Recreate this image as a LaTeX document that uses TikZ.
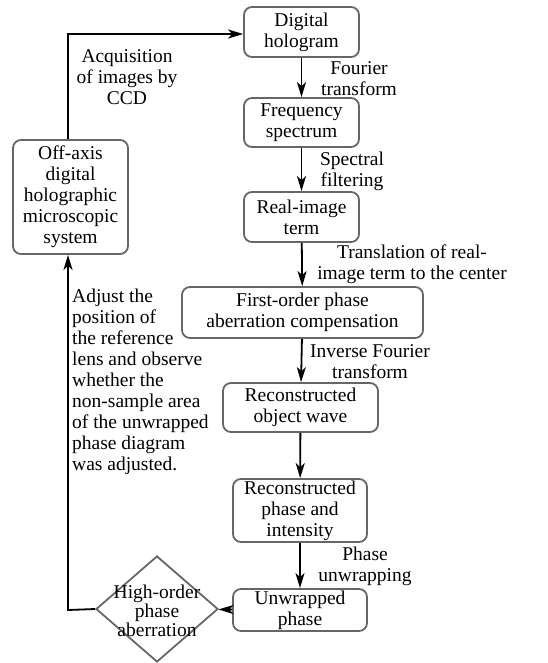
\documentclass[tikz,border=0pt]{standalone}
\usepackage{fontspec}
\setmainfont{Liberation Serif}
\usetikzlibrary{arrows.meta,positioning}
\usetikzlibrary{shapes.geometric}

\tikzset{
    stepbox/.style={draw=black!60, line width=1.8pt, rounded corners=8pt,
        align=center, inner sep=1pt},
    decide/.style={draw=black!60, line width=1.8pt, diamond, aspect=1.15,
        align=center, inner sep=0pt, minimum width=122pt, minimum height=106pt},
    flow/.style={line width=1.8pt, -{Stealth[length=15pt,width=9pt,inset=4pt]}},
    note/.style={align=center, inner sep=0pt},
}

\begin{document}
\begin{tikzpicture}[x=1pt, y=-1pt, font=\fontsize{19.5}{21}\selectfont]
\useasboundingbox (0,0) rectangle (547,663);

% processing chain
\node[stepbox, minimum width=115pt, minimum height=50pt] (holo) at (301.5,32) {Digital\\hologram};
\node[stepbox, minimum width=115pt, minimum height=49pt] (freq) at (301.5,122.5) {Frequency\\spectrum};
\node[stepbox, minimum width=115pt, minimum height=50pt] (real) at (301.5,217) {Real-image\\term};
\node[stepbox, minimum width=241pt, minimum height=51pt] (first) at (302.5,312.5) {First-order phase\\aberration compensation};
\node[stepbox, minimum width=155pt, minimum height=49pt] (objw) at (300.5,407.5) {Reconstructed\\object wave};
\node[stepbox, minimum width=134pt, minimum height=63pt] (phint) at (300,510.5) {Reconstructed\\phase and\\intensity};
\node[stepbox, minimum width=134pt, minimum height=42pt] (unwr) at (300,610) {Unwrapped\\phase};
\node[decide] (high) at (157,609) {};
\node[note, font=\fontsize{19.5}{16}\selectfont] (highlbl) at (157,611) {High-order\\phase\\aberration};
\node[stepbox, minimum width=115pt, minimum height=114pt] (sys) at (70.5,197) {Off-axis\\digital\\holographic\\microscopic\\system};

% connectors
\coordinate (top) at (68,34);
\coordinate (bot) at (68,610);
\draw[flow] (holo) -- (freq);
\draw[flow] (freq) -- (real);
\draw[flow] (real) -- (first);
\draw[flow] (first) -- (objw);
\draw[flow] (objw) -- (phint);
\draw[flow] (phint) -- (unwr);
\draw[flow] (unwr) -- (high);
\draw[flow] (high.west) -- (bot) -- (sys.south -| bot);
\draw[flow] (sys.north -| top) -- (top) -- (holo.west |- top);

% labels
\node[note] (lccd) at (127,77) {Acquisition\\of images by\\CCD};
\node[note] (lft) at (359,79) {Fourier\\transform};
\node[note] (lsf) at (352,171.5) {Spectral\\filtering};
\node[note] (ltr) at (412,264) {Translation of real-\\image term to the center};
\node[note] (lift) at (370,362) {Inverse Fourier\\transform};
\node[note] (lpu) at (365,566.5) {Phase\\unwrapping};
\node[note, align=left, anchor=north west] (ladj) at (72,289) {Adjust the\\position of\\the reference\\lens and observe\\whether the\\non-sample area\\of the unwrapped\\phase diagram\\was adjusted.};
\end{tikzpicture}
\end{document}
